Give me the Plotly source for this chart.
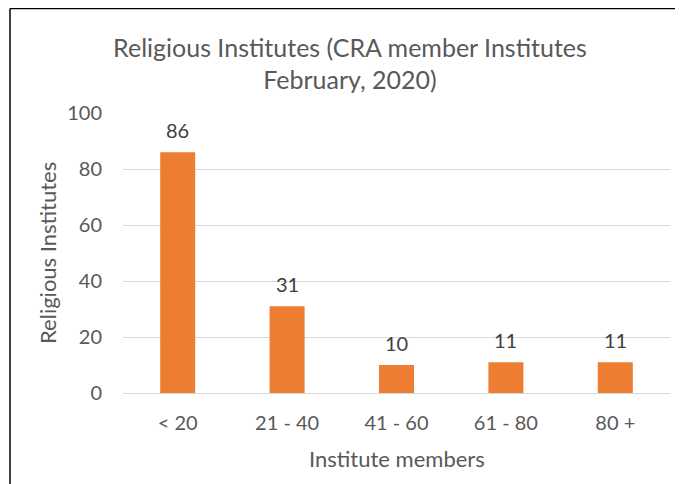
import plotly.graph_objects as go

categories = ["< 20", "21 - 40", "41 - 60", "61 - 80", "80 +"]
values = [86, 31, 10, 11, 11]
y_ticks = [0, 20, 40, 60, 80, 100]

FONT = "Lato"
TXT = "#595959"

# browser body has an 8px margin; figure coords = window coords - 8
W, H = 675, 476
L, R, T, B = 115, 13, 105, 91
pw, ph = W - L - R, H - T - B


def px(x):
    return (x - L) / pw


def py(y):
    return (H - B - y) / ph


fig = go.Figure(go.Bar(
    x=categories, y=values,
    marker=dict(color="#ED7D31", line=dict(width=0)),
    width=0.32, cliponaxis=False,
))

annotations = [
    dict(x=c, y=v, xref="x", yref="y", text=str(v), showarrow=False,
         yanchor="bottom", yshift=8,
         font=dict(size=20, color="#404040", family=FONT))
    for c, v in zip(categories, values)
]
annotations += [
    dict(x=px(39), y=py(245), xref="paper", yref="paper",
         text="Religious Institutes", textangle=-90, showarrow=False,
         xanchor="center", yanchor="middle",
         font=dict(size=22, color=TXT, family=FONT)),
    dict(x=px(389), y=py(450), xref="paper", yref="paper",
         text="Institute members", showarrow=False,
         xanchor="center", yanchor="middle",
         font=dict(size=22, color=TXT, family=FONT)),
]

fig.update_layout(
    width=W, height=H,
    margin=dict(l=L, r=R, t=T, b=B, autoexpand=False),
    paper_bgcolor="white", plot_bgcolor="white",
    font=dict(family=FONT, color=TXT),
    showlegend=False,
    title=dict(
        text="Religious Institutes (CRA member Institutes<br>February, 2020)",
        x=342 / W, xanchor="center", xref="container",
        y=1 - 48.5 / H, yanchor="middle", yref="container",
        font=dict(size=25, color=TXT, family=FONT),
    ),
    xaxis=dict(
        showgrid=False, showline=False, ticks="", automargin=False,
        tickfont=dict(size=20, color=TXT),
        ticklabelstandoff=16,
    ),
    yaxis=dict(
        range=[0, 100], tickvals=y_ticks, automargin=False,
        showgrid=True, gridcolor="#D9D9D9", gridwidth=1,
        zeroline=True, zerolinecolor="#D9D9D9", zerolinewidth=1,
        showline=False, ticks="",
        tickfont=dict(size=20, color=TXT),
        ticklabelstandoff=20,
    ),
    annotations=annotations,
    shapes=[
        dict(type="line", xref="paper", yref="paper",
             x0=px(2), x1=px(2), y0=py(0.5), y1=py(490),
             line=dict(color="#000000", width=1.5)),
        dict(type="line", xref="paper", yref="paper",
             x0=px(2), x1=px(690), y0=py(0.5), y1=py(0.5),
             line=dict(color="#000000", width=1.5)),
    ],
)

fig.write_html("out.html")
